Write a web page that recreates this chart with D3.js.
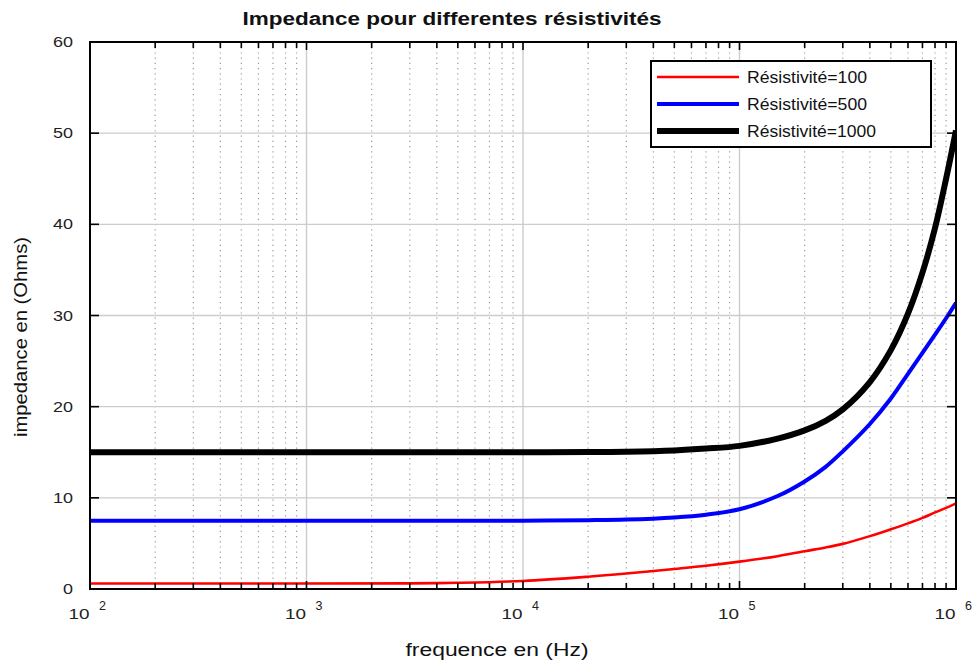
<!DOCTYPE html>
<html lang="fr">
<head>
<meta charset="utf-8" />
<title>Impedance</title>
<script src="https://cdnjs.cloudflare.com/ajax/libs/d3/7.8.5/d3.min.js"></script>
<style>
  body { margin: 0; background: #fff; }
  svg text { font-family: "Liberation Sans", Arial, sans-serif; }
</style>
</head>
<body>
<div id="chart"></div>
<script>
// data
var freqs = [1e2, 1e3, 3e3, 5e3, 1e4, 2e4, 3e4, 5e4, 7e4, 1e5, 1.5e5, 2e5, 2.5e5, 3e5, 4e5, 5e5, 6e5, 7e5, 8e5, 9e5, 1e6];
var z100  = [0.6, 0.6, 0.62, 0.68, 0.88, 1.35, 1.7, 2.2, 2.55, 3.0, 3.6, 4.15, 4.55, 4.95, 5.8, 6.55, 7.2, 7.8, 8.4, 8.9, 9.4];
var z500  = [7.5, 7.5, 7.5, 7.5, 7.5, 7.55, 7.62, 7.85, 8.15, 8.75, 10.2, 11.8, 13.4, 15.1, 18.1, 20.9, 23.6, 25.9, 27.9, 29.7, 31.4];
var z1000 = [15.0, 15.0, 15.0, 15.0, 15.0, 15.02, 15.06, 15.2, 15.4, 15.7, 16.5, 17.4, 18.45, 19.7, 22.7, 26.2, 30.2, 34.7, 39.6, 45.0, 50.3];
var seriesNames = ["Résistivité=100", "Résistivité=500", "Résistivité=1000"];
var yTicks = [0, 10, 20, 30, 40, 50, 60];
var decades = [2, 3, 4, 5, 6];

var width = 975, height = 661;
var plotLeft = 90, plotRight = 956, plotTop = 42, plotBottom = 589;

var svg = d3.select("#chart").append("svg")
    .attr("width", width)
    .attr("height", height);

var x = d3.scaleLog().domain([1e2, 1e6]).range([plotLeft, plotRight]);
var y = d3.scaleLinear().domain([0, 60]).range([plotBottom, plotTop]);

// minor frequencies 2..9 x 10^k
var minor = [];
for (var k = 2; k < 6; k++) {
    for (var m = 2; m <= 9; m++) minor.push(m * Math.pow(10, k));
}
var major = decades.map(function (d) { return Math.pow(10, d); });

// grid
var grid = svg.append("g");
grid.selectAll("line.minor").data(minor).enter().append("line")
    .attr("x1", function (d) { return x(d); }).attr("x2", function (d) { return x(d); })
    .attr("y1", plotTop).attr("y2", plotBottom)
    .attr("stroke", "#9a9a9a").attr("stroke-width", 1.2)
    .attr("stroke-dasharray", "1.2,4");
grid.selectAll("line.major").data(major).enter().append("line")
    .attr("x1", function (d) { return x(d); }).attr("x2", function (d) { return x(d); })
    .attr("y1", plotTop).attr("y2", plotBottom)
    .attr("stroke", "#cccccc").attr("stroke-width", 1.4);
grid.selectAll("line.h").data(yTicks.slice(1, -1)).enter().append("line")
    .attr("x1", plotLeft).attr("x2", plotRight)
    .attr("y1", function (d) { return y(d); }).attr("y2", function (d) { return y(d); })
    .attr("stroke", "#cccccc").attr("stroke-width", 1.4);

// curves
svg.append("clipPath").attr("id", "clip").append("rect")
    .attr("x", plotLeft).attr("y", plotTop)
    .attr("width", plotRight - plotLeft).attr("height", plotBottom - plotTop);

var line = d3.line()
    .x(function (d) { return x(d[0]); })
    .y(function (d) { return y(d[1]); })
    .curve(d3.curveCatmullRom.alpha(0.5));

var series = [
    { name: seriesNames[0], values: z100, color: "#ff0000", w: 2.6, tl: 120 },
    { name: seriesNames[1], values: z500, color: "#0000ff", w: 4, tl: 120 },
    { name: seriesNames[2], values: z1000, color: "#000000", w: 6, tl: 129 }
];

var curves = svg.append("g").attr("clip-path", "url(#clip)");
series.forEach(function (s) {
    curves.append("path")
        .datum(d3.zip(freqs, s.values))
        .attr("fill", "none")
        .attr("stroke", s.color)
        .attr("stroke-width", s.w)
        .attr("d", line);
});

// ticks
var ticks = svg.append("g").attr("stroke", "#000").attr("stroke-width", 1.6);
minor.concat(major).forEach(function (f) {
    var len = major.indexOf(f) >= 0 ? 8 : 6;
    ticks.append("line").attr("x1", x(f)).attr("x2", x(f)).attr("y1", plotBottom).attr("y2", plotBottom - len);
    ticks.append("line").attr("x1", x(f)).attr("x2", x(f)).attr("y1", plotTop).attr("y2", plotTop + len);
});
yTicks.forEach(function (v) {
    ticks.append("line").attr("x1", plotLeft).attr("x2", plotLeft + 9).attr("y1", y(v)).attr("y2", y(v));
    ticks.append("line").attr("x1", plotRight).attr("x2", plotRight - 9).attr("y1", y(v)).attr("y2", y(v));
});

// frame
svg.append("rect")
    .attr("x", plotLeft).attr("y", plotTop)
    .attr("width", plotRight - plotLeft).attr("height", plotBottom - plotTop)
    .attr("fill", "none").attr("stroke", "#000").attr("stroke-width", 2);

// tick labels
svg.append("g").selectAll("text").data(yTicks).enter().append("text")
    .attr("x", 73).attr("y", function (d) { return y(d) + 5; })
    .attr("text-anchor", "end").attr("font-size", 15).attr("fill", "#222")
    .attr("textLength", function (d) { return String(d).length * 10; })
    .attr("lengthAdjust", "spacingAndGlyphs")
    .text(function (d) { return d; });

var xl = svg.append("g").attr("fill", "#222");
decades.forEach(function (d) {
    var px = x(Math.pow(10, d));
    xl.append("text").attr("x", px - 0.5).attr("y", 619).attr("text-anchor", "end")
        .attr("font-size", 15).attr("textLength", 21).attr("lengthAdjust", "spacingAndGlyphs")
        .text("10");
    xl.append("text").attr("x", px + 9).attr("y", 610).attr("font-size", 12)
        .attr("textLength", 7).attr("lengthAdjust", "spacingAndGlyphs").text(d);
});

// titles
svg.append("text").attr("x", 452).attr("y", 25).attr("text-anchor", "middle")
    .attr("font-size", 18).attr("font-weight", "bold").attr("fill", "#111")
    .attr("textLength", 419).attr("lengthAdjust", "spacingAndGlyphs")
    .text("Impedance pour differentes résistivités");
svg.append("text").attr("x", 497).attr("y", 656).attr("text-anchor", "middle")
    .attr("font-size", 18).attr("fill", "#111")
    .attr("textLength", 183).attr("lengthAdjust", "spacingAndGlyphs")
    .text("frequence en (Hz)");
svg.append("text").attr("transform", "translate(27,337) rotate(-90)")
    .attr("text-anchor", "middle").attr("font-size", 19).attr("fill", "#111")
    .attr("textLength", 200).attr("lengthAdjust", "spacingAndGlyphs")
    .text("impedance en (Ohms)");

// legend
var lg = svg.append("g");
lg.append("rect").attr("x", 651).attr("y", 61).attr("width", 280).attr("height", 86)
    .attr("fill", "#fff").attr("stroke", "#000").attr("stroke-width", 2);
series.forEach(function (s, i) {
    var ly = 77 + i * 27;
    lg.append("line").attr("x1", 657).attr("x2", 739).attr("y1", ly).attr("y2", ly)
        .attr("stroke", s.color).attr("stroke-width", s.w);
    lg.append("text").attr("x", 747).attr("y", ly + 6).attr("font-size", 16).attr("fill", "#111")
        .attr("textLength", s.tl).attr("lengthAdjust", "spacingAndGlyphs")
        .text(s.name);
});
</script>
</body>
</html>
